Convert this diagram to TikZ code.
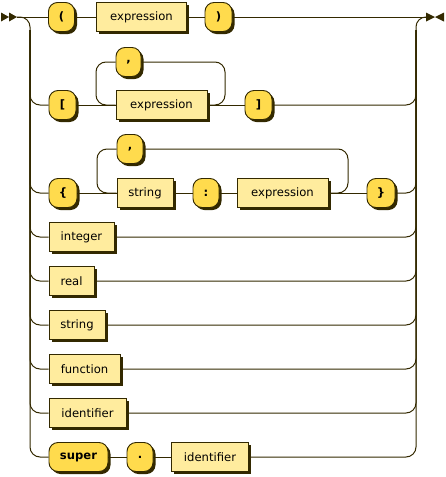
\documentclass[tikz,border=0pt]{standalone}
\usepackage{fontspec}
\setmainfont{DejaVu Sans}
\usetikzlibrary{shadows}
\definecolor{termfill}{HTML}{FFDB4D}
\definecolor{ntfill}{HTML}{FFEC9E}
\definecolor{linec}{HTML}{332900}
\begin{document}
\begin{tikzpicture}[x=1pt,y=-1pt,
  box/.style={draw=linec, line width=0.9pt, minimum height=29pt, inner sep=0pt, text=black,
    font=\fontsize{11.6}{14}\selectfont,
    general shadow={fill=linec, shadow xshift=2.5pt, shadow yshift=-2.5pt}},
  term/.style={box, fill=termfill, rounded corners=9pt, font=\fontsize{11.6}{14}\selectfont\bfseries},
  nt/.style={box, fill=ntfill},
  wire/.style={draw=linec, line width=1pt},
  rail/.style={wire, rounded corners=10pt},
  marker/.style={fill=linec}]
\useasboundingbox (0,0) rectangle (445,477);
% markers
\fill[marker] (1,12.5) -- (9,17) -- (1,21.5) -- cycle;
\fill[marker] (9,12.5) -- (17,17) -- (9,21.5) -- cycle;
\fill[marker] (426,12.5) -- (435,17) -- (426,21.5) -- cycle;
\fill[marker] (444,12.5) -- (435,17) -- (444,21.5) -- cycle;
\coordinate (start) at (17,17);
\coordinate (end) at (426,17);
\coordinate (L) at (30,200);
\coordinate (Ltop) at (30,30);
\coordinate (Rc) at (416,17);
\coordinate (Rtop) at (416,30);
\coordinate (L2) at (96,105);
\coordinate (R2) at (225,62);
\coordinate (L3) at (97,193);
\coordinate (R3) at (348,149);
% row 1
\node[term, minimum width=26pt] (lp) at (61.5,17) {(};
\node[nt, minimum width=90pt] (ex1) at (141.5,17) {expression};
\node[term, minimum width=27pt] (rp) at (218.5,17) {)};
% row 2
\node[term, minimum width=27pt] (lb) at (62.5,105) {[};
\node[term, minimum width=25pt] (cm1) at (128.5,62) {,};
\node[nt, minimum width=91pt] (ex2) at (161.5,105) {expression};
\node[term, minimum width=27pt] (rb) at (258.5,105) {]};
% row 3
\node[term, minimum width=28pt] (lc) at (63,193) {\{};
\node[term, minimum width=26pt] (cm2) at (130,149) {,};
\node[nt, minimum width=56pt] (st1) at (145,193) {string};
\node[term, minimum width=26pt] (co) at (206,193) {:};
\node[nt, minimum width=91pt] (ex3) at (282.5,193) {expression};
\node[term, minimum width=28pt] (rc) at (381,193) {\}};
% simple rows
\node[nt, minimum width=65pt] (int) at (81.5,237) {integer};
\node[nt, minimum width=45pt] (real) at (71.5,281) {real};
\node[nt, minimum width=56pt] (str) at (77,325) {string};
\node[nt, minimum width=71pt] (fun) at (84.5,369) {function};
\node[nt, minimum width=77pt] (id1) at (87.5,413) {identifier};
\node[term, minimum width=59pt] (sup) at (78.5,457) {super};
\node[term, minimum width=26pt] (dot) at (140,457) {.};
\node[nt, minimum width=77pt] (id2) at (210,457) {identifier};
% main line
\draw[wire] (start) -- (lp.west);
\draw[wire] (lp.east) -- (ex1.west);
\draw[wire] (ex1.east) -- (rp.west);
\draw[wire] (rp.east) -- (end);
% left rail
\draw[rail] (start) -| (L) |- (sup.west);
\foreach \n in {lb,lc,int,real,str,fun,id1} {\draw[rail] (Ltop) |- (\n.west);}
% right rail
\draw[rail] (id2.east) -| (Rc) -- (end);
\foreach \n in {rb,rc,int,real,str,fun,id1} {\draw[rail] (\n.east) -| (Rtop);}
% row 2 wires
\draw[wire] (lb.east) -- (ex2.west);
\draw[wire] (ex2.east) -- (rb.west);
\draw[rail] (ex2.east) -| (R2) -- (cm1.east);
\draw[rail] (cm1.west) -| (L2) -- (ex2.west);
% row 3 wires
\draw[wire] (lc.east) -- (st1.west);
\draw[wire] (st1.east) -- (co.west);
\draw[wire] (co.east) -- (ex3.west);
\draw[wire] (ex3.east) -- (rc.west);
\draw[rail] (ex3.east) -| (R3) -- (cm2.east);
\draw[rail] (cm2.west) -| (L3) -- (st1.west);
% super row
\draw[wire] (sup.east) -- (dot.west);
\draw[wire] (dot.east) -- (id2.west);
\end{tikzpicture}
\end{document}
